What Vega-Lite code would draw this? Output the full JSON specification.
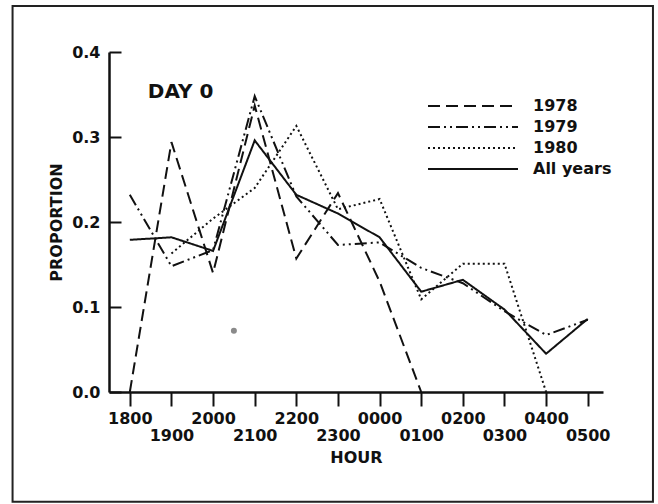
{
  "$schema": "https://vega.github.io/schema/vega-lite/v6.json",
  "width": 494,
  "height": 340,
  "autosize": "none",
  "padding": {"left": 109, "top": 52, "right": 55, "bottom": 112},
  "background": "white",
  "config": {"view": {"stroke": null}, "font": "DejaVu Sans"},
  "layer": [
    {
      "data": {"values": [
        {"series": "1978", "time": "2000-01-01T18:00", "proportion": 0.0},
        {"series": "1978", "time": "2000-01-01T19:00", "proportion": 0.294},
        {"series": "1978", "time": "2000-01-01T20:00", "proportion": 0.14},
        {"series": "1978", "time": "2000-01-01T21:00", "proportion": 0.337},
        {"series": "1978", "time": "2000-01-01T22:00", "proportion": 0.157},
        {"series": "1978", "time": "2000-01-01T23:00", "proportion": 0.234},
        {"series": "1978", "time": "2000-01-02T00:00", "proportion": 0.13},
        {"series": "1978", "time": "2000-01-02T01:00", "proportion": 0.0},
        {"series": "1979", "time": "2000-01-01T18:00", "proportion": 0.232},
        {"series": "1979", "time": "2000-01-01T19:00", "proportion": 0.148},
        {"series": "1979", "time": "2000-01-01T20:00", "proportion": 0.167},
        {"series": "1979", "time": "2000-01-01T21:00", "proportion": 0.348},
        {"series": "1979", "time": "2000-01-01T22:00", "proportion": 0.23},
        {"series": "1979", "time": "2000-01-01T23:00", "proportion": 0.173},
        {"series": "1979", "time": "2000-01-02T00:00", "proportion": 0.176},
        {"series": "1979", "time": "2000-01-02T01:00", "proportion": 0.146},
        {"series": "1979", "time": "2000-01-02T02:00", "proportion": 0.128},
        {"series": "1979", "time": "2000-01-02T03:00", "proportion": 0.095},
        {"series": "1979", "time": "2000-01-02T04:00", "proportion": 0.067},
        {"series": "1979", "time": "2000-01-02T05:00", "proportion": 0.085},
        {"series": "1980", "time": "2000-01-01T19:00", "proportion": 0.163},
        {"series": "1980", "time": "2000-01-01T20:00", "proportion": 0.204},
        {"series": "1980", "time": "2000-01-01T21:00", "proportion": 0.24},
        {"series": "1980", "time": "2000-01-01T22:00", "proportion": 0.313},
        {"series": "1980", "time": "2000-01-01T23:00", "proportion": 0.215},
        {"series": "1980", "time": "2000-01-02T00:00", "proportion": 0.227},
        {"series": "1980", "time": "2000-01-02T01:00", "proportion": 0.109},
        {"series": "1980", "time": "2000-01-02T02:00", "proportion": 0.151},
        {"series": "1980", "time": "2000-01-02T03:00", "proportion": 0.151},
        {"series": "1980", "time": "2000-01-02T04:00", "proportion": 0.0},
        {"series": "All years", "time": "2000-01-01T18:00", "proportion": 0.179},
        {"series": "All years", "time": "2000-01-01T19:00", "proportion": 0.182},
        {"series": "All years", "time": "2000-01-01T20:00", "proportion": 0.166},
        {"series": "All years", "time": "2000-01-01T21:00", "proportion": 0.296},
        {"series": "All years", "time": "2000-01-01T22:00", "proportion": 0.232},
        {"series": "All years", "time": "2000-01-01T23:00", "proportion": 0.21},
        {"series": "All years", "time": "2000-01-02T00:00", "proportion": 0.182},
        {"series": "All years", "time": "2000-01-02T01:00", "proportion": 0.118},
        {"series": "All years", "time": "2000-01-02T02:00", "proportion": 0.132},
        {"series": "All years", "time": "2000-01-02T03:00", "proportion": 0.097},
        {"series": "All years", "time": "2000-01-02T04:00", "proportion": 0.045},
        {"series": "All years", "time": "2000-01-02T05:00", "proportion": 0.086}
      ]},
      "mark": {"type": "line", "strokeWidth": 2, "color": "#111"},
      "encoding": {
        "x": {
          "field": "time",
          "type": "temporal",
          "title": "HOUR",
          "scale": {
            "domain": [
              {"year": 2000, "month": 1, "date": 1, "hours": 17, "minutes": 30},
              {"year": 2000, "month": 1, "date": 2, "hours": 5, "minutes": 22}
            ],
            "nice": false
          },
          "axis": {
            "title": "HOUR",
            "grid": false,
            "labelExpr": "hours(datum.value) % 2 == 1 ? ['', timeFormat(datum.value, '%H%M')] : timeFormat(datum.value, '%H%M')",
            "labelLineHeight": 17,
            "labelPadding": 4,
            "labelOverlap": false,
            "labelFont": "DejaVu Sans",
            "labelFontSize": 16,
            "labelFontWeight": "bold",
            "labelColor": "#111",
            "tickSize": 14,
            "tickWidth": 2,
            "tickColor": "#111",
            "domainWidth": 2.5,
            "domainColor": "#111",
            "titleFont": "DejaVu Sans",
            "titleFontSize": 16,
            "titleFontWeight": "bold",
            "titleColor": "#111",
            "titlePadding": 6
          }
        },
        "y": {
          "field": "proportion",
          "type": "quantitative",
          "title": "PROPORTION",
          "scale": {"domain": [0, 0.4], "nice": false, "zero": false},
          "axis": {
            "title": "PROPORTION",
            "grid": false,
            "values": [0, 0.1, 0.2, 0.3, 0.4],
            "format": ".1f",
            "tickSize": -12,
            "tickWidth": 2,
            "tickColor": "#111",
            "domainWidth": 2.5,
            "domainColor": "#111",
            "labelPadding": 21,
            "labelFont": "DejaVu Sans",
            "labelFontSize": 16,
            "labelFontWeight": "bold",
            "labelColor": "#111",
            "titleFont": "DejaVu Sans",
            "titleFontSize": 16,
            "titleFontWeight": "bold",
            "titleColor": "#111",
            "titlePadding": 7
          }
        },
        "strokeDash": {
          "field": "series",
          "type": "nominal",
          "scale": {
            "domain": ["1978", "1979", "1980", "All years"],
            "range": [[12, 6], [12, 4, 2, 4, 2, 4], [2, 3], [1, 0]]
          },
          "legend": {
            "title": null,
            "orient": "none",
            "legendX": 318,
            "legendY": 44,
            "padding": 0,
            "symbolType": "M-5,0H5",
            "symbolSize": 324,
            "symbolStrokeWidth": 2,
            "symbolStrokeColor": "#111",
            "symbolOffset": 36,
            "labelOffset": 50,
            "labelFont": "DejaVu Sans",
            "labelFontWeight": "bold",
            "labelFontSize": 16,
            "labelColor": "#111",
            "labelLimit": 0,
            "rowPadding": 3
          }
        }
      }
    },
    {
      "data": {"values": [{}]},
      "mark": {"type": "rect", "fill": "transparent", "stroke": "#222", "strokeWidth": 2},
      "encoding": {
        "x": {"datum": {"year": 2000, "month": 1, "date": 1, "hours": 15, "minutes": 11}, "type": "temporal", "title": "HOUR"},
        "x2": {"datum": {"year": 2000, "month": 1, "date": 2, "hours": 6, "minutes": 34}},
        "y": {"datum": 0.454, "type": "quantitative", "title": "PROPORTION"},
        "y2": {"datum": -0.129}
      }
    },
    {
      "data": {"values": [{"time": "2000-01-01T20:30", "proportion": 0.072}]},
      "mark": {"type": "circle", "size": 36, "color": "#8a8a8a", "opacity": 1},
      "encoding": {
        "x": {"field": "time", "type": "temporal", "title": "HOUR"},
        "y": {"field": "proportion", "type": "quantitative", "title": "PROPORTION"}
      }
    },
    {
      "data": {"values": [{}]},
      "mark": {"type": "text", "text": "DAY 0", "font": "DejaVu Sans", "fontWeight": "bold", "fontSize": 20, "align": "left", "baseline": "alphabetic", "color": "#111"},
      "encoding": {
        "x": {"datum": {"year": 2000, "month": 1, "date": 1, "hours": 18, "minutes": 26}, "type": "temporal", "title": "HOUR"},
        "y": {"datum": 0.3455, "type": "quantitative", "title": "PROPORTION"}
      }
    }
  ]
}
